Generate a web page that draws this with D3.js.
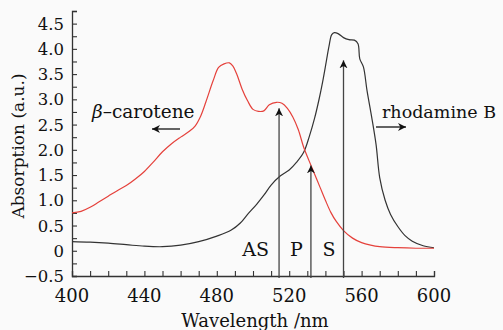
<!DOCTYPE html>
<html>
<head>
<meta charset="utf-8">
<script src="https://cdn.jsdelivr.net/npm/d3@7"></script>
<style>
  body { margin: 0; background: #fafafa; }
  text { font-family: "DejaVu Serif", serif; fill: #111; }
</style>
</head>
<body>
<svg id="chart" width="503" height="330"></svg>
<script>
// beta-carotene absorption (red)
const carotWl = [400,405,410,415,420,425,430,435,440,445,450,455,460,465,468,471,474,478,481,484,487,489,491,494,497,500,503,506,509,513,516,519,522,525,528,531,534,537,540,543,546,550,555,560,565,570,580,590,600];
const carotAbs = [0.75,0.78,0.86,0.97,1.08,1.19,1.29,1.42,1.57,1.76,1.96,2.12,2.25,2.37,2.47,2.66,2.95,3.37,3.63,3.70,3.72,3.65,3.50,3.20,2.97,2.80,2.76,2.77,2.89,2.94,2.92,2.82,2.65,2.40,2.05,1.78,1.52,1.26,1.00,0.76,0.58,0.40,0.25,0.16,0.11,0.08,0.06,0.05,0.05];

// rhodamine B absorption (black)
const rhodWl = [400,410,420,430,440,450,460,470,480,488,493,497,502,506,510,515,520,524,528,531,534,536.5,538.5,540.5,542,543.5,545,547,550,553,556,558,559,561,563,565.5,568,570,573,576,580,584,588,594,600];
const rhodAbs = [0.18,0.17,0.15,0.12,0.09,0.08,0.11,0.18,0.29,0.41,0.55,0.72,0.92,1.10,1.30,1.48,1.60,1.75,1.95,2.25,2.62,3.00,3.35,3.75,4.05,4.28,4.32,4.30,4.22,4.18,4.17,4.10,3.80,3.64,3.17,2.66,2.10,1.45,1.00,0.72,0.48,0.30,0.19,0.10,0.06];

// vertical arrows: wavelength and tip height
const arrowWl = [514.4, 532, 550];
const arrowTop = [2.82, 1.69, 3.77];

// region labels
const regionNames = ["AS", "P", "S"];
const regionWl = [501.5, 524, 542];

const xTicks = [400, 440, 480, 520, 560, 600];
const yTicks = [-0.5, 0, 0.5, 1.0, 1.5, 2.0, 2.5, 3.0, 3.5, 4.0, 4.5];

const svg = d3.select("#chart");
const x = d3.scaleLinear().domain([400, 600]).range([72, 434]);
const y = d3.scaleLinear().domain([-0.5, 4.5]).range([276, 23.5]);

svg.append("defs").append("marker")
    .attr("id", "head")
    .attr("viewBox", "0 0 10 10")
    .attr("refX", 10).attr("refY", 5)
    .attr("markerWidth", 8).attr("markerHeight", 10)
    .attr("markerUnits", "userSpaceOnUse")
    .attr("orient", "auto")
  .append("path")
    .attr("d", "M0,0L10,5L0,10L3,5Z")
    .attr("fill", "#111");

// axes
const xAxis = svg.append("g")
    .attr("transform", "translate(0," + y(-0.5) + ")")
    .call(d3.axisBottom(x).tickValues(d3.range(400, 601, 10)).tickSize(-5).tickFormat(""));
xAxis.select(".domain").attr("stroke", "#333").attr("stroke-width", 1.3);
xAxis.selectAll(".tick line").attr("stroke", "#333").attr("stroke-width", 1.1);

const yAxis = svg.append("g")
    .attr("transform", "translate(" + x(400) + ",0)")
    .call(d3.axisLeft(y.copy().domain([-0.5, 4.75]).range([276, 11]))
      .tickValues(d3.range(-0.5, 4.76, 0.25)).tickSize(-5).tickFormat(""));
yAxis.select(".domain").attr("stroke", "#333").attr("stroke-width", 1.3);
yAxis.selectAll(".tick line").attr("stroke", "#333").attr("stroke-width", 1.1);

svg.append("g").selectAll("text").data(xTicks).join("text")
    .attr("x", d => x(d)).attr("y", 302)
    .attr("text-anchor", "middle")
    .style("font-size", "18px")
    .text(d => d);

svg.append("g").selectAll("text").data(yTicks).join("text")
    .attr("x", 64).attr("y", d => y(d) + 6)
    .attr("text-anchor", "end")
    .style("font-size", "16.5px")
    .text(d => d === 0 ? "0" : (d < 0 ? "\u2212" + Math.abs(d).toFixed(1) : d.toFixed(1)));

svg.append("text")
    .attr("x", 255).attr("y", 327)
    .attr("text-anchor", "middle")
    .style("font-size", "18px")
    .text("Wavelength /nm");

svg.append("text")
    .attr("transform", "translate(24,146) rotate(-90)")
    .attr("text-anchor", "middle")
    .style("font-size", "17px")
    .text("Absorption (a.u.)");

// curves
const line = d3.line().x(d => x(d[0])).y(d => y(d[1])).curve(d3.curveCatmullRom.alpha(0.5));

svg.append("path")
    .datum(rhodWl.map((w, i) => [w, rhodAbs[i]]))
    .attr("d", line)
    .attr("fill", "none").attr("stroke", "#333").attr("stroke-width", 1.2);

svg.append("path")
    .datum(carotWl.map((w, i) => [w, carotAbs[i]]))
    .attr("d", line)
    .attr("fill", "none").attr("stroke", "#e5413b").attr("stroke-width", 1.2);

// vertical arrows
svg.append("g").selectAll("line").data(arrowWl).join("line")
    .attr("x1", d => x(d)).attr("x2", d => x(d))
    .attr("y1", y(-0.5) + 2)
    .attr("y2", (d, i) => y(arrowTop[i]))
    .attr("stroke", "#444").attr("stroke-width", 1.3)
    .attr("marker-end", "url(#head)");

svg.append("g").selectAll("text").data(regionNames).join("text")
    .attr("x", (d, i) => x(regionWl[i])).attr("y", 256)
    .attr("text-anchor", "middle")
    .style("font-size", "19px")
    .text(d => d);

// series labels
const carotLabel = svg.append("text")
    .attr("x", 92).attr("y", 118)
    .style("font-size", "18.5px");
carotLabel.append("tspan").style("font-style", "italic").text("\u03B2");
carotLabel.append("tspan").text("\u2013carotene");

svg.append("line")
    .attr("x1", 180).attr("x2", 152).attr("y1", 129).attr("y2", 129)
    .attr("stroke", "#111").attr("stroke-width", 1.3)
    .attr("marker-end", "url(#head)");

svg.append("text")
    .attr("x", 382).attr("y", 118)
    .style("font-size", "17.5px")
    .text("rhodamine B");

svg.append("line")
    .attr("x1", 376).attr("x2", 406).attr("y1", 127).attr("y2", 127)
    .attr("stroke", "#111").attr("stroke-width", 1.3)
    .attr("marker-end", "url(#head)");
</script>
</body>
</html>
